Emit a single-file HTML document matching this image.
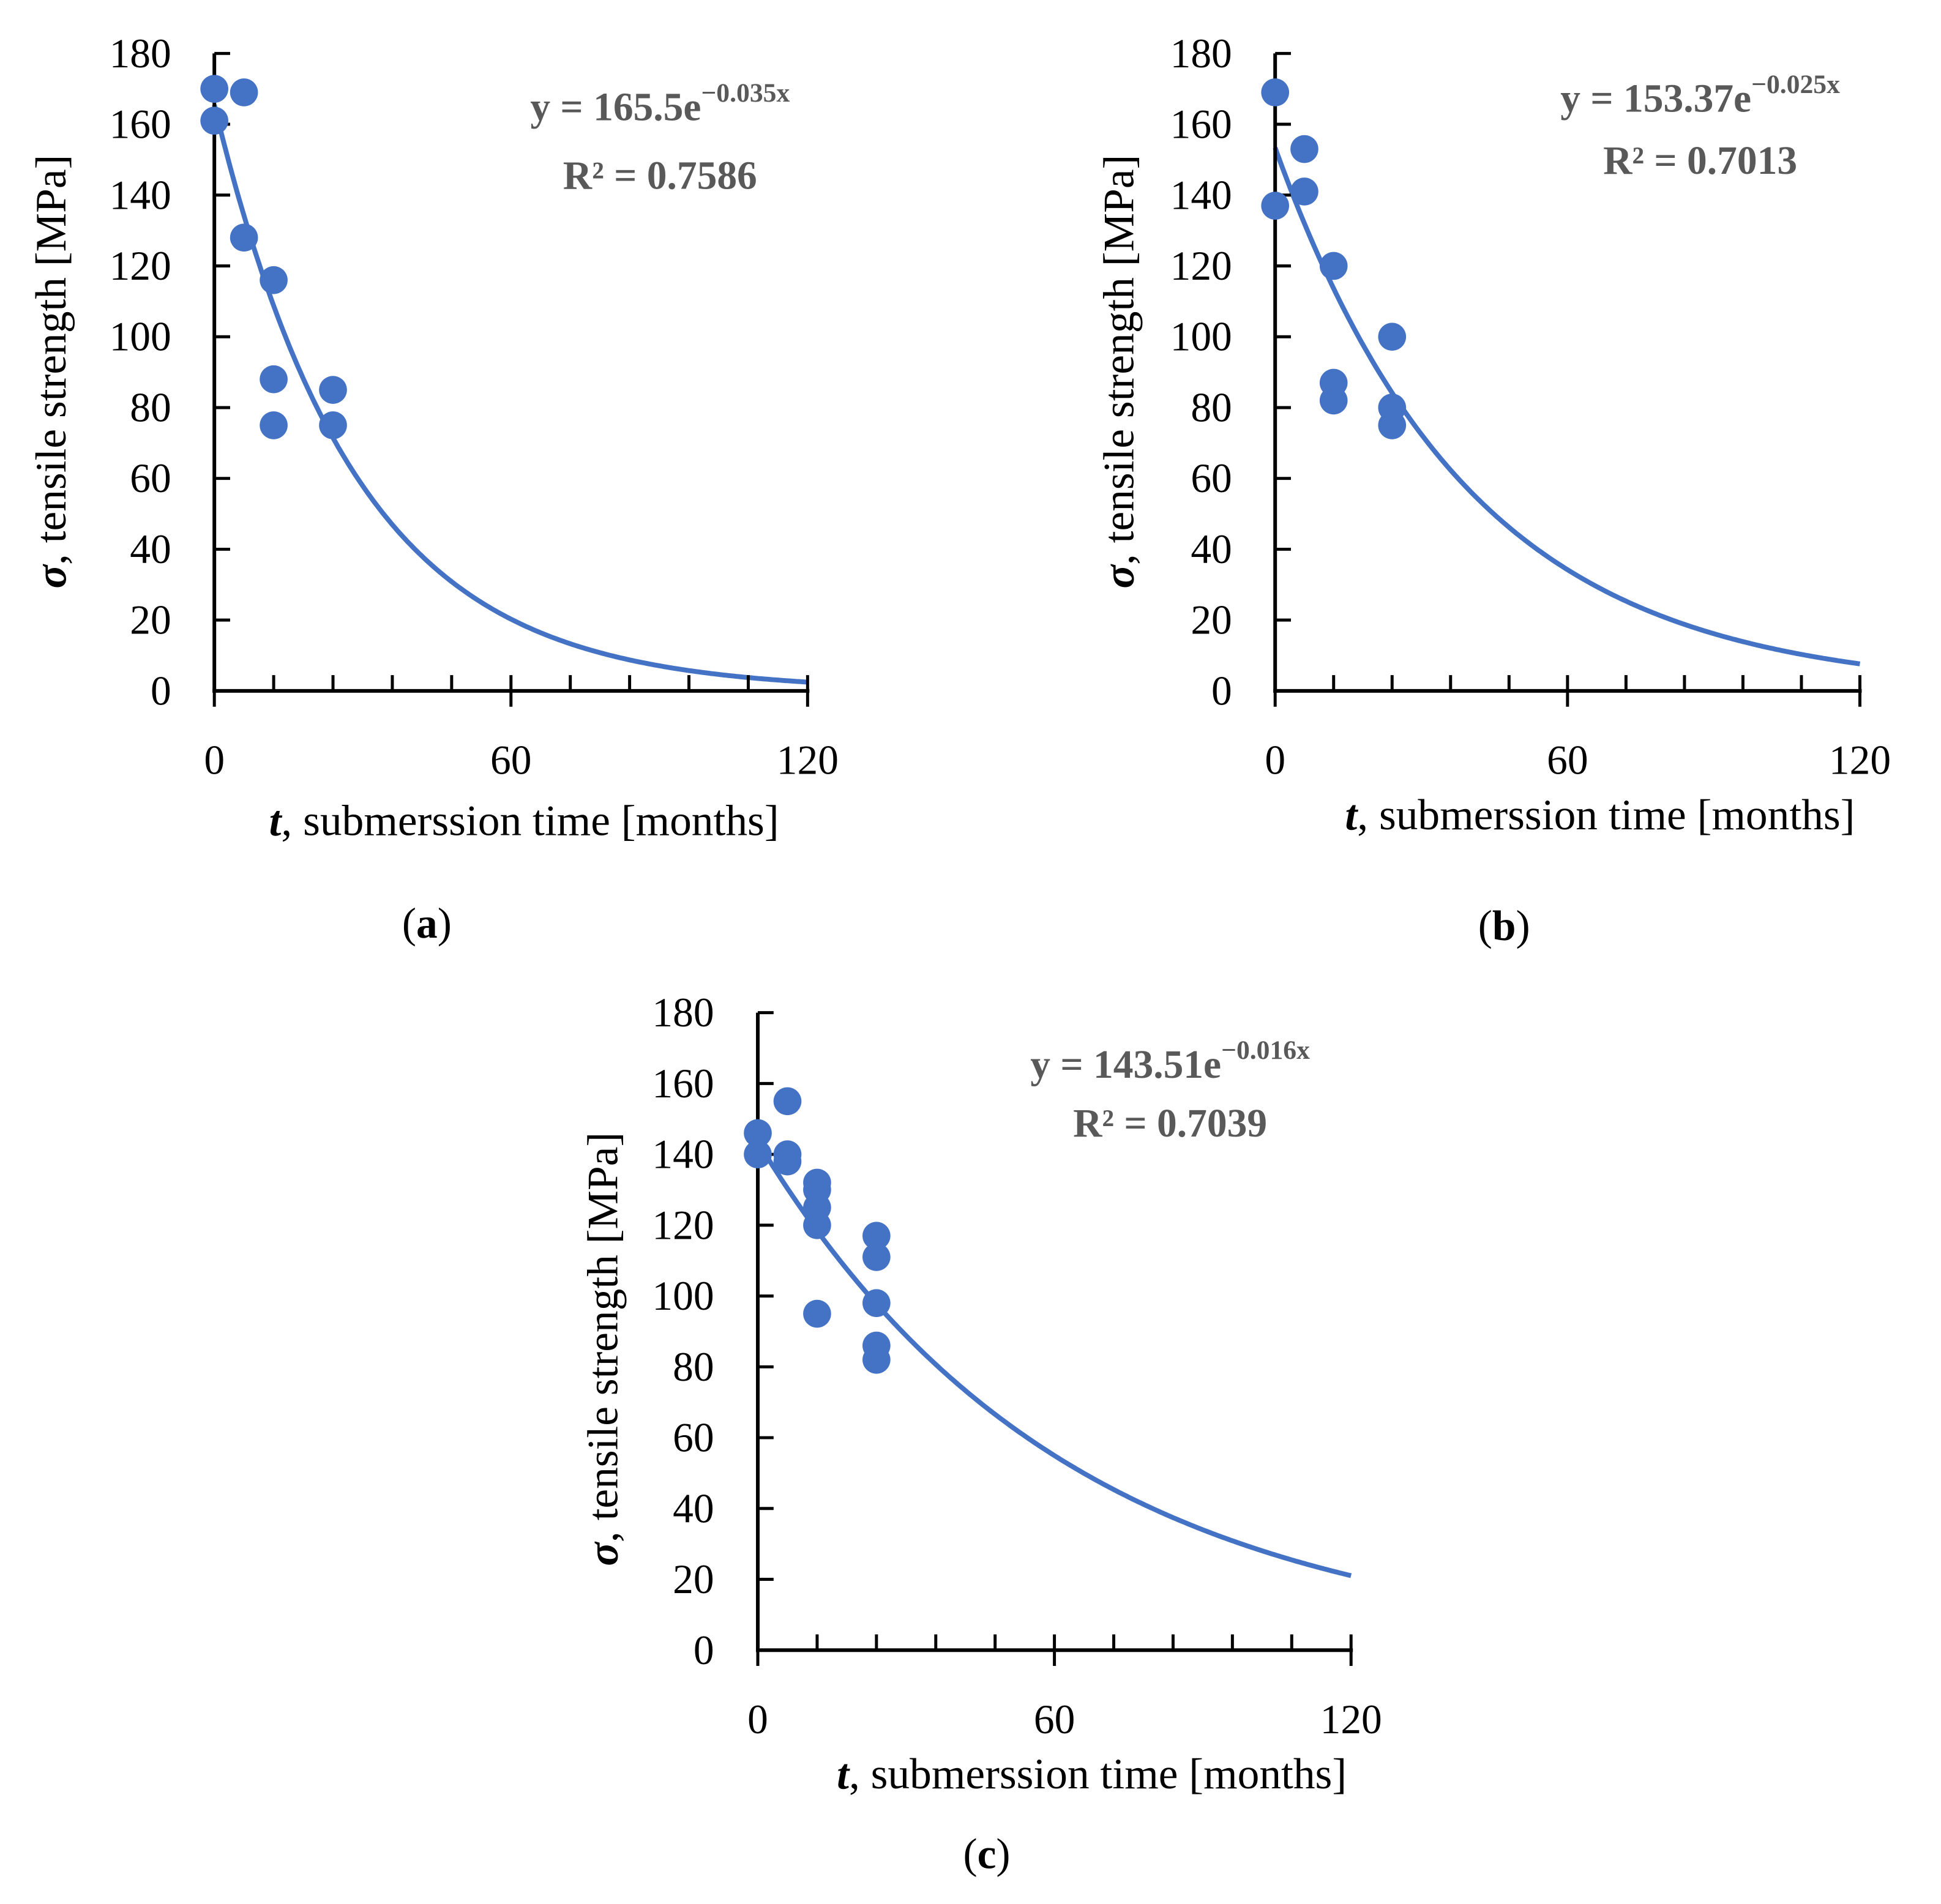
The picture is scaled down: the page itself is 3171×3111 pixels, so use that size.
<!DOCTYPE html>
<html><head><meta charset="utf-8">
<style>
html,body{margin:0;padding:0;background:#fff;}
svg{display:block;}
text{font-family:"Liberation Serif",serif;}
</style></head>
<body>
<svg id="fig" width="3171" height="3111" viewBox="0 0 3171 3111" xmlns="http://www.w3.org/2000/svg"><g id="root" transform="scale(0.992)"></g></svg>
<script>
// ---- data ----
const yTicks = [0,20,40,60,80,100,120,140,160,180];
const xTickLabels = [0,60,120];
const xMinor = [0,12,24,36,48,60,72,84,96,108,120];

const aX = [0,0,6,6,12,12,12,24,24];
const aY = [170,161,169,128,116,88,75,85,75];
const bX = [0,0,6,6,12,12,12,24,24,24];
const bY = [169,137,153,141,120,87,82,100,80,75];
const cX = [0,0,6,6,6,12,12,12,12,12,24,24,24,24,24];
const cY = [146,140,155,140,138,132,130,125,120,95,117,111,98,86,82];

const aFit = [165.5, 0.035];
const bFit = [153.37, 0.025];
const cFit = [143.51, 0.016];

const panels = [
 {id:'a', xs:aX, ys:aY, fit:aFit, eq:['165.5','−0.035x'], r2:'0.7586',
  x0:353, x1:1330, y0:1138, y1:88, ylabR:282, ytitleX:84, ytitleY:612,
  xtitleX:863, xtitleY:1352, eqX:1087, eqY:177, r2Y:290, capX:703, capY:1521},
 {id:'b', xs:bX, ys:bY, fit:bFit, eq:['153.37','−0.025x'], r2:'0.7013',
  x0:2100, x1:3063, y0:1138, y1:88, ylabR:2029, ytitleX:1843, ytitleY:612,
  xtitleX:2635, xtitleY:1342, eqX:2800, eqY:163, r2Y:265, capX:2477, capY:1525},
 {id:'c', xs:cX, ys:cY, fit:cFit, eq:['143.51','−0.016x'], r2:'0.7039',
  x0:1248, x1:2225, y0:2718, y1:1668, ylabR:1176, ytitleX:993, ytitleY:2222,
  xtitleX:1798, xtitleY:2922, eqX:1927, eqY:1754, r2Y:1851, capX:1625, capY:3054}
];

const NS='http://www.w3.org/2000/svg';
const svg=document.getElementById('root');
function mk(tag, attrs, parent){
  const e=document.createElementNS(NS,tag);
  for(const k in attrs) e.setAttribute(k,attrs[k]);
  (parent||svg).appendChild(e);
  return e;
}
const BLUE='#4472C4';

panels.forEach(p=>{
  const g=mk('g',{});
  
  
  const sx=v=>p.x0+(v/120)*(p.x1-p.x0);
  const sy=v=>p.y0-(v/180)*(p.y0-p.y1);

  let d='';
  for(let i=0;i<=240;i++){
    const t=i*0.5;
    const v=p.fit[0]*Math.exp(-p.fit[1]*t);
    d+=(i?'L':'M')+sx(t).toFixed(1)+','+sy(v).toFixed(1);
  }
  const tl=mk('path',{d:d,fill:'none',stroke:BLUE,'stroke-width':8},g);
  
  

  const ya=mk('line',{x1:p.x0,y1:sy(0)+3,x2:p.x0,y2:sy(180),stroke:'#000','stroke-width':6},g);
  
  
  const xa=mk('line',{x1:p.x0-3,y1:p.y0,x2:p.x1+3,y2:p.y0,stroke:'#000','stroke-width':6},g);
  
  

  yTicks.forEach(v=>{
    const tk=mk('line',{x1:p.x0,y1:sy(v),x2:p.x0+26,y2:sy(v),stroke:'#000','stroke-width':5},g);
    
    
    const t=mk('text',{x:p.ylabR,y:sy(v),'text-anchor':'end','dominant-baseline':'central','font-size':68,fill:'#000'},g);
    t.textContent=v;
    
    
  });
  xMinor.forEach(v=>{
    const major = xTickLabels.indexOf(v)>=0;
    const tk=mk('line',{x1:sx(v),y1:major?p.y0+26:p.y0,x2:sx(v),y2:p.y0-26,stroke:'#000','stroke-width':5},g);
    
    
  });
  xTickLabels.forEach(v=>{
    const t=mk('text',{x:sx(v),y:p.y0+114,'text-anchor':'middle','dominant-baseline':'central','font-size':68,fill:'#000'},g);
    t.textContent=v;
    
    
  });

  p.xs.forEach((xv,i)=>{
    const c=mk('circle',{cx:sx(xv),cy:sy(p.ys[i]),r:23,fill:BLUE},g);
    
    
  });

  const yt=mk('text',{x:p.ytitleX,y:p.ytitleY,'text-anchor':'middle','dominant-baseline':'central','font-size':72,fill:'#000',transform:`rotate(-90 ${p.ytitleX} ${p.ytitleY})`},g);
  yt.innerHTML='<tspan font-weight="bold" font-style="italic">σ</tspan>, tensile strength [MPa]';
  
  
  const xt=mk('text',{x:p.xtitleX,y:p.xtitleY,'text-anchor':'middle','dominant-baseline':'central','font-size':72,fill:'#000'},g);
  xt.innerHTML='<tspan font-weight="bold" font-style="italic">t</tspan>, submerssion time [months]';
  
  

  const eq=mk('text',{x:p.eqX,y:p.eqY,'text-anchor':'middle','dominant-baseline':'central','font-size':66,'font-weight':'bold',fill:'#595959'},g);
  eq.innerHTML='y = '+p.eq[0]+'e<tspan font-size="44" dy="-24">'+p.eq[1]+'</tspan>';
  
  
  const r2=mk('text',{x:p.eqX,y:p.r2Y,'text-anchor':'middle','dominant-baseline':'central','font-size':66,'font-weight':'bold',fill:'#595959'},g);
  r2.textContent='R² = '+p.r2;
  
  

  const cap=mk('text',{x:p.capX,y:p.capY,'text-anchor':'middle','dominant-baseline':'central','font-size':70,fill:'#000'},g);
  cap.innerHTML='(<tspan font-weight="bold">'+p.id+'</tspan>)';
  
  
});
</script>
</body></html>
